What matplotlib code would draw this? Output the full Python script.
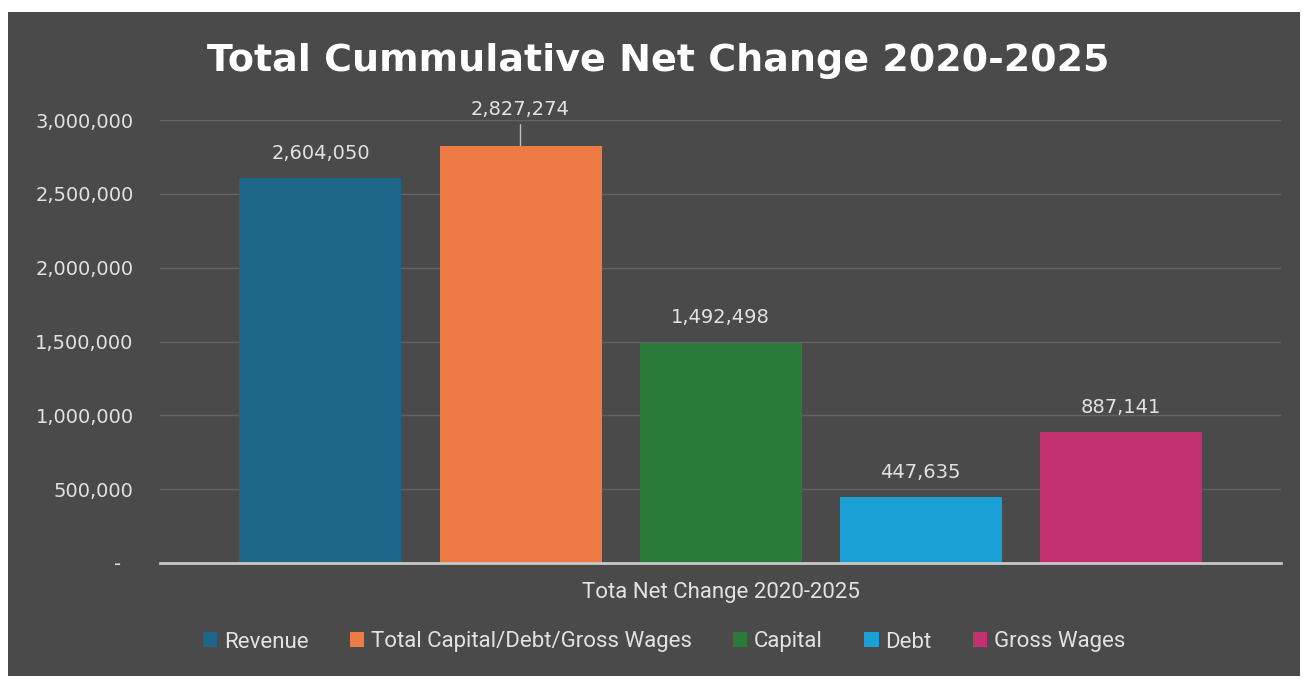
import matplotlib
matplotlib.use("Agg")
import matplotlib.pyplot as plt
from matplotlib.patches import Rectangle
from matplotlib.ticker import FuncFormatter

# series (one bar each, single category)
series = ["Revenue", "Total Capital/Debt/Gross Wages", "Capital", "Debt", "Gross Wages"]
values = [2604050, 2827274, 1492498, 447635, 887141]
colors = ["#1d6689", "#ec7b45", "#2a7b3a", "#1ba0d6", "#c2316f"]
category = "Tota Net Change 2020-2025"
yticks = [0, 500000, 1000000, 1500000, 2000000, 2500000, 3000000]

bg = "#4a4a4a"
txt = "#e2e2e2"

fig = plt.figure(figsize=(13.08, 6.79), dpi=100, facecolor="white")
# dark chart panel behind everything
fig.patches.append(Rectangle((8 / 1308, 3 / 679), 1292 / 1308, 664 / 679,
                             transform=fig.transFigure, facecolor=bg,
                             edgecolor="none", zorder=-5))

ax = fig.add_axes([160 / 1308, 1 - 563 / 679, 1121 / 1308, 443 / 679])
ax.set_facecolor("none")

pos = [i - 2 for i in range(len(values))]
bars = ax.bar(pos, values, width=0.81, color=colors, zorder=3)

ax.set_xlim(-2.8025, 2.8025)
ax.set_ylim(0, 3000000)
ax.set_yticks(yticks)
ax.yaxis.set_major_formatter(FuncFormatter(lambda v, p: "-  " if v == 0 else f"{int(v):,}"))
ax.grid(axis="y", color="#636363", linewidth=1, zorder=1)
ax.set_xticks([0])
ax.set_xticklabels([category])
ax.tick_params(axis="x", length=0, pad=14, labelsize=16, colors=txt)
ax.tick_params(axis="y", length=0, pad=19, labelsize=14, colors=txt)
for lab in ax.get_xticklabels():
    lab.set_fontfamily("Roboto")
for s in ["top", "right", "left"]:
    ax.spines[s].set_visible(False)
ax.spines["bottom"].set_color("#c8c8c8")
ax.spines["bottom"].set_linewidth(2)
ax.spines["bottom"].set_zorder(4)

# value labels; the orange one sits higher with a leader line
for b, v in zip(bars, values):
    cx = b.get_x() + b.get_width() / 2
    if v == max(values):
        ax.annotate(f"{v:,}", xy=(cx, v), xytext=(0, 19), textcoords="offset points",
                    ha="center", va="bottom", fontsize=14, color=txt,
                    arrowprops=dict(arrowstyle="-", color="#bdbdbd", lw=1,
                                    shrinkA=2, shrinkB=0))
    else:
        ax.annotate(f"{v:,}", xy=(cx, v), xytext=(0, 11), textcoords="offset points",
                    ha="center", va="bottom", fontsize=14, color=txt)

fig.text(658 / 1308, 1 - 61 / 679, "Total Cummulative Net Change 2020-2025",
         ha="center", va="center", fontsize=27.4, fontweight="bold",
         fontfamily="DejaVu Sans", color="white")

fig.legend(bars, series, loc="center", bbox_to_anchor=(664 / 1308, 1 - 642 / 679),
           ncol=5, frameon=False, handlelength=0.65, handleheight=0.65,
           handletextpad=0.3, columnspacing=1.85,
           prop={"family": "Roboto", "size": 16}, labelcolor=txt)

fig.savefig("out.png", dpi=100, facecolor="white")
